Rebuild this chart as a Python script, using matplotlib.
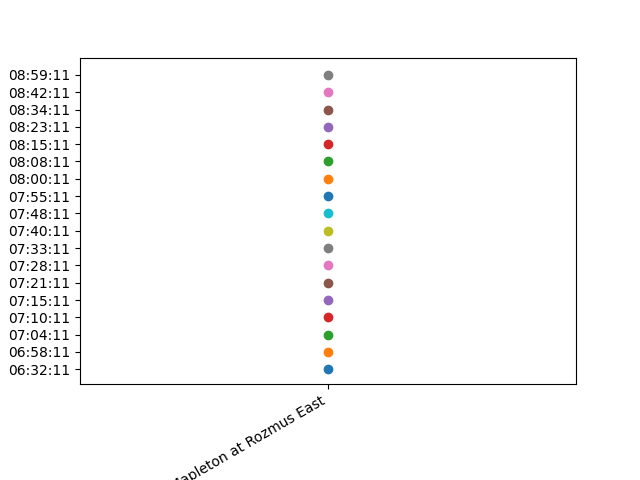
import matplotlib
matplotlib.use("Agg")
import matplotlib.pyplot as plt

# Stop name and the times a bus was seen there
stops = ["Mapleton at Rozmus East"] * 18
times = [
    "06:32:11", "06:58:11", "07:04:11", "07:10:11", "07:15:11", "07:21:11",
    "07:28:11", "07:33:11", "07:40:11", "07:48:11", "07:55:11", "08:00:11",
    "08:08:11", "08:15:11", "08:23:11", "08:34:11", "08:42:11", "08:59:11",
]

fig, ax = plt.subplots(figsize=(6.4, 4.8), dpi=100)

# one plot call per point, so the colours cycle
for stop, t in zip(stops, times):
    ax.plot([stop], [t], "o")

# a bit more room above the top point, like the original
ax.set_ylim(-0.85, len(times))

fig.autofmt_xdate()
fig.savefig("out.png")
